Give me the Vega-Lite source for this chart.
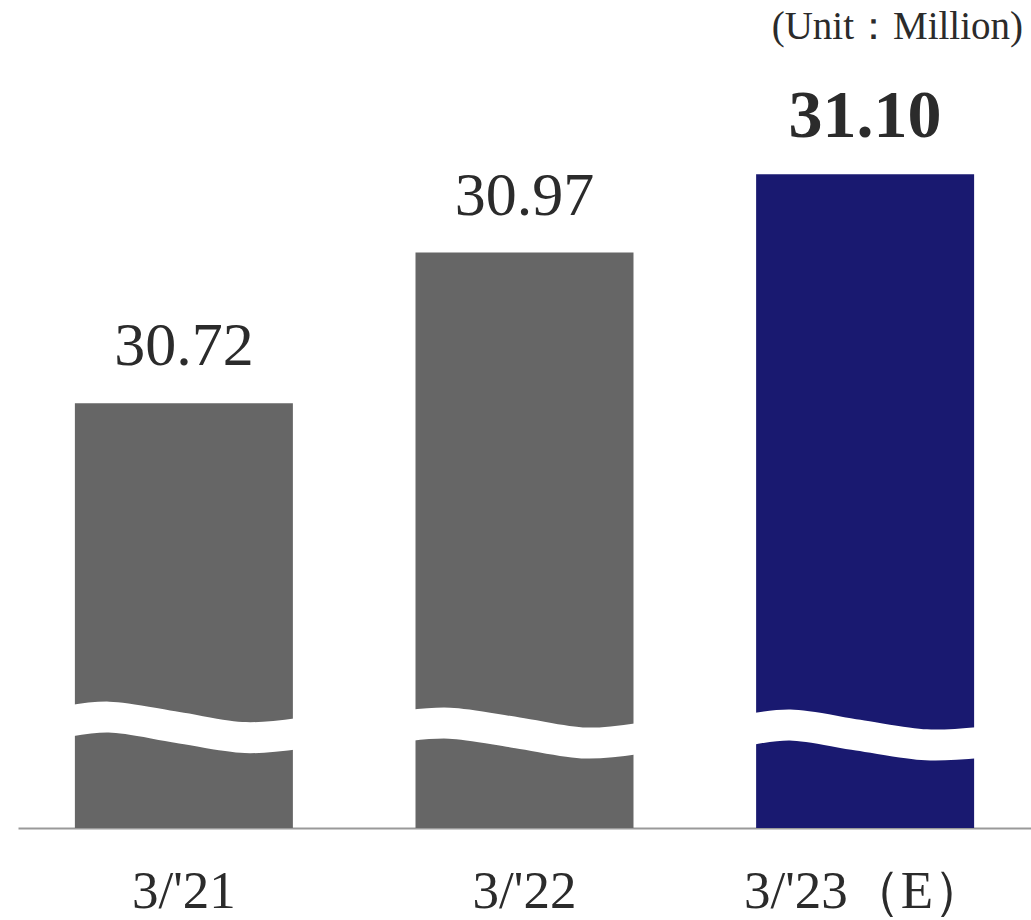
{
  "$schema": "https://vega.github.io/schema/vega-lite/v6.json",
  "width": 1013,
  "height": 768,
  "autosize": "none",
  "padding": {"left": 18, "top": 60, "right": 0, "bottom": 92},
  "background": "white",
  "config": {"view": {"stroke": null}},
  "title": {
    "text": "(Unit：Million)",
    "anchor": "end",
    "frame": "group",
    "font": "Liberation Serif",
    "fontSize": 39,
    "fontWeight": "normal",
    "color": "#2b2b2b",
    "baseline": "alphabetic",
    "offset": -18,
    "dx": -8
  },
  "datasets": {
    "bars": [
      {"bar": "3/'21", "value": 30.72},
      {"bar": "3/'22", "value": 30.97},
      {"bar": "3/'23（E）", "value": 31.10}
    ],
    "wave": [
      {"bar": "3/'21", "t": -0.34, "v": 30.192},
      {"bar": "3/'21", "t": -0.22, "v": 30.199},
      {"bar": "3/'21", "t": -0.02, "v": 30.182},
      {"bar": "3/'21", "t": 0.18, "v": 30.165},
      {"bar": "3/'21", "t": 0.34, "v": 30.172},
      {"bar": "3/'22", "t": 0.66, "v": 30.185},
      {"bar": "3/'22", "t": 0.78, "v": 30.189},
      {"bar": "3/'22", "t": 0.98, "v": 30.173},
      {"bar": "3/'22", "t": 1.18, "v": 30.156},
      {"bar": "3/'22", "t": 1.34, "v": 30.164},
      {"bar": "3/'23（E）", "t": 1.66, "v": 30.178},
      {"bar": "3/'23（E）", "t": 1.78, "v": 30.186},
      {"bar": "3/'23（E）", "t": 1.98, "v": 30.169},
      {"bar": "3/'23（E）", "t": 2.18, "v": 30.153},
      {"bar": "3/'23（E）", "t": 2.34, "v": 30.157}
    ]
  },
  "layer": [
    {
      "data": {"name": "bars"},
      "encoding": {
        "x": {
          "field": "bar",
          "type": "nominal",
          "sort": null,
          "scale": {"type": "band", "paddingInner": 0.36, "paddingOuter": 0.167},
          "axis": {
            "title": null,
            "ticks": false,
            "grid": false,
            "domainColor": "#999999",
            "domainWidth": 2,
            "labelAngle": 0,
            "labelFont": "Liberation Serif",
            "labelFontSize": 53,
            "labelColor": "#2b2b2b",
            "labelBaseline": "alphabetic",
            "labelPadding": 79,
            "labelLimit": 0
          }
        },
        "y": {
          "field": "value",
          "type": "quantitative",
          "scale": {"domain": [30.015, 31.2895], "zero": false, "nice": false},
          "axis": null
        }
      },
      "layer": [
        {
          "mark": {"type": "bar"},
          "encoding": {
            "y2": {"datum": 30.015},
            "color": {
              "field": "bar",
              "type": "nominal",
              "scale": {"domain": ["3/'21", "3/'22", "3/'23（E）"], "range": ["#666666", "#666666", "#191970"]},
              "legend": null
            }
          }
        },
        {
          "transform": [{"filter": "datum.bar !== \"3/'23（E）\""}],
          "mark": {"type": "text", "font": "Liberation Serif", "fontSize": 62, "color": "#2b2b2b", "baseline": "alphabetic", "dy": -38},
          "encoding": {"text": {"field": "value", "type": "quantitative", "format": ".2f"}}
        },
        {
          "transform": [{"filter": "datum.bar === \"3/'23（E）\""}],
          "mark": {"type": "text", "font": "Liberation Serif", "fontSize": 68, "fontWeight": "bold", "color": "#2b2b2b", "baseline": "alphabetic", "dy": -37},
          "encoding": {"text": {"field": "value", "type": "quantitative", "format": ".2f"}}
        }
      ]
    },
    {
      "data": {"name": "wave"},
      "mark": {"type": "line", "interpolate": "catmull-rom", "color": "white", "strokeWidth": 31, "strokeCap": "butt"},
      "encoding": {
        "x": {"field": "t", "type": "quantitative", "scale": {"domain": [-0.4875, 2.4875], "nice": false, "zero": false}, "axis": null},
        "y": {"field": "v", "type": "quantitative", "scale": {"domain": [30.015, 31.2895], "zero": false, "nice": false}, "axis": null},
        "detail": {"field": "bar", "type": "nominal"}
      }
    }
  ],
  "resolve": {"scale": {"x": "independent"}}
}
